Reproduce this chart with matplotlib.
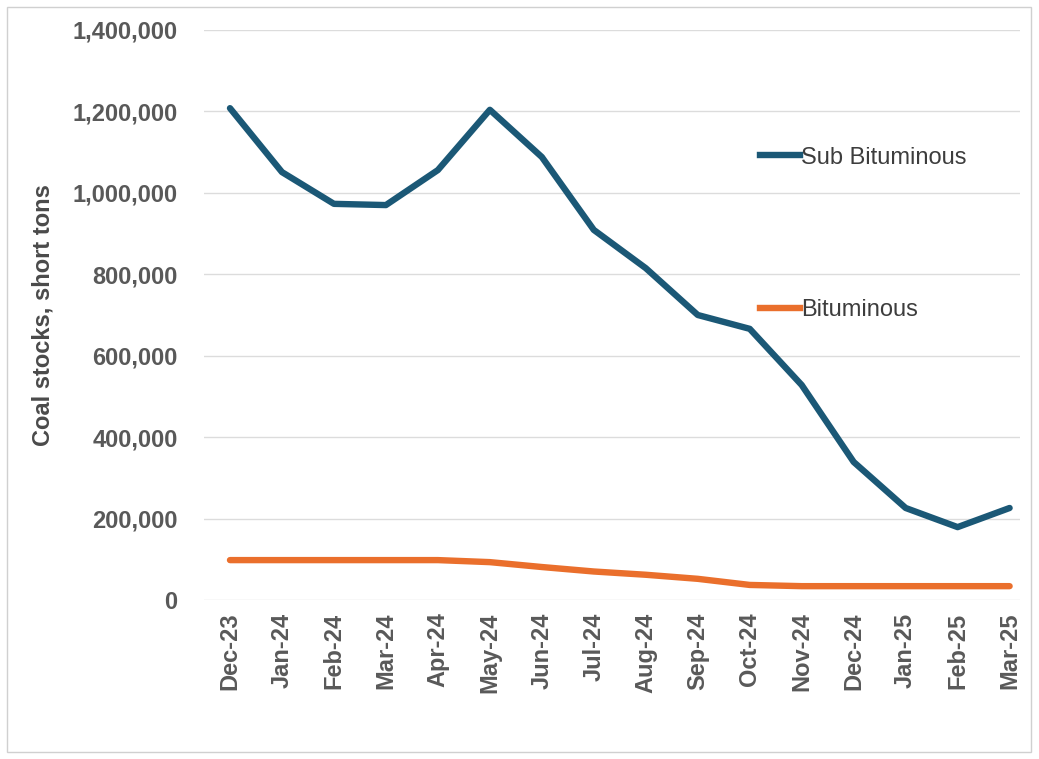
import matplotlib.pyplot as plt
from matplotlib.lines import Line2D
from matplotlib.patches import Rectangle
from matplotlib.ticker import FuncFormatter

plt.rcParams['font.family'] = ['Liberation Sans', 'DejaVu Sans']

# data (short tons)
months = ['Dec-23', 'Jan-24', 'Feb-24', 'Mar-24', 'Apr-24', 'May-24', 'Jun-24', 'Jul-24',
          'Aug-24', 'Sep-24', 'Oct-24', 'Nov-24', 'Dec-24', 'Jan-25', 'Feb-25', 'Mar-25']
sub_bituminous = [1208000, 1051000, 973000, 970000, 1056000, 1204000, 1088000, 909000,
                  815000, 700000, 666000, 528000, 339000, 226000, 179000, 226000]
bituminous = [98000, 98000, 98000, 98000, 98000, 93000, 81000, 70000,
              62000, 52000, 37000, 34000, 34000, 34000, 34000, 34000]

blue = '#1b5876'
orange = '#ea6f2c'
grey = '#595959'

W, H = 1039, 759
fig = plt.figure(figsize=(W / 100, H / 100), dpi=100)
ax = fig.add_axes([204 / W, (H - 600) / H, (1020 - 204) / W, 570 / H])

x = range(len(months))
ax.plot(x, sub_bituminous, color=blue, lw=4.6, solid_capstyle='round', solid_joinstyle='round')
ax.plot(x, bituminous, color=orange, lw=4.6, solid_capstyle='round', solid_joinstyle='round')

ax.set_xlim(-0.5, 15.2)
ax.set_ylim(0, 1400000)
ax.set_yticks(range(0, 1400001, 200000))
ax.yaxis.set_major_formatter(FuncFormatter(lambda v, p: f'{int(v):,}'))
ax.set_xticks(list(x))
ax.set_xticklabels(months, rotation=90)
ax.tick_params(length=0, labelsize=17, labelcolor=grey)
ax.tick_params(axis='y', pad=19)
ax.tick_params(axis='x', pad=9)
for lab in ax.get_xticklabels() + ax.get_yticklabels():
    lab.set_fontweight('bold')

ax.grid(axis='y', color='#dcdcdc', lw=1)
ax.set_axisbelow(True)
for s in ax.spines.values():
    s.set_visible(False)

ax.set_ylabel('Coal stocks, short tons', fontsize=17, color='#4a4a4a', fontweight='bold')
ax.yaxis.set_label_coords(-0.183, 0.5)

# inline series labels
leg1 = ax.legend([Line2D([], [], color=blue, lw=4.6)], ['Sub Bituminous'],
                 loc='center left', bbox_to_anchor=(0.655, 0.776), frameon=False,
                 fontsize=17, handlelength=1.7, handletextpad=0.05, labelcolor='#3d3d3d')
ax.add_artist(leg1)
ax.legend([Line2D([], [], color=orange, lw=4.6)], ['Bituminous'],
          loc='center left', bbox_to_anchor=(0.655, 0.509), frameon=False,
          fontsize=17, handlelength=1.7, handletextpad=0.05, labelcolor='#3d3d3d')

# chart border
fig.patches.append(Rectangle((7 / W, 7 / H), (1031 - 7) / W, (752 - 7) / H,
                             transform=fig.transFigure, fill=False, ec='#d0d0d0', lw=1))

plt.savefig('out.png')
